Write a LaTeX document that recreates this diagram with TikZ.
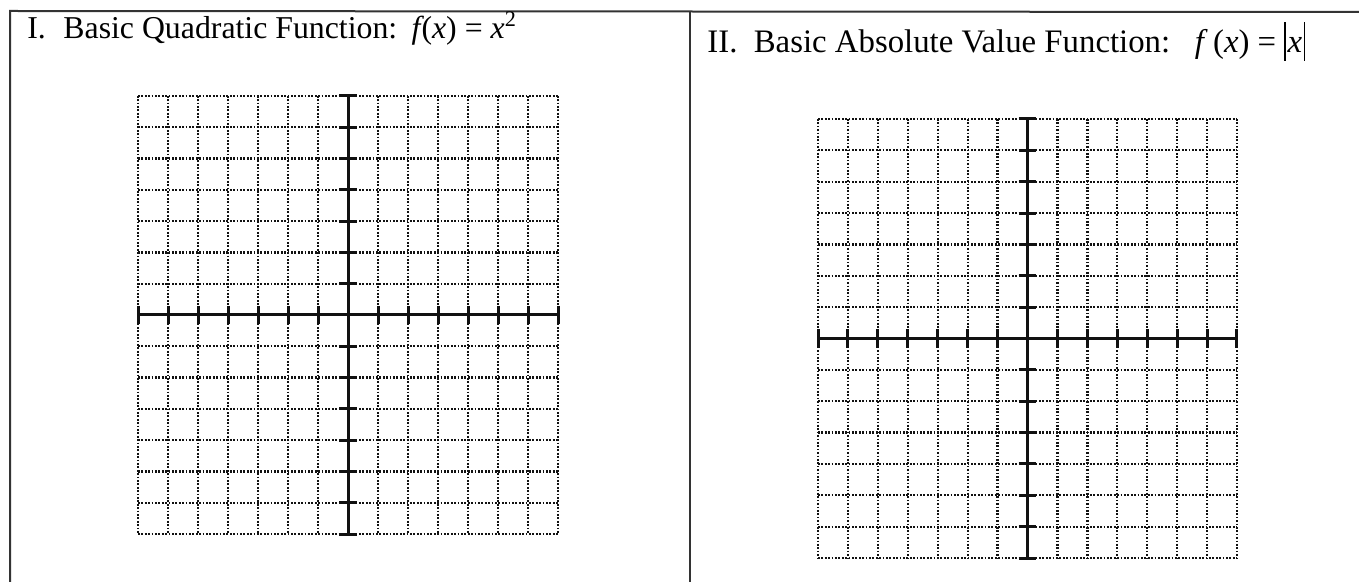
\documentclass[tikz,border=0pt]{standalone}
\usepackage{fontspec}
\setmainfont{Liberation Serif}
\newfontfamily\headfont{Liberation Serif}
\usepackage{xcolor}
\definecolor{inkblack}{HTML}{111111}
\definecolor{rulegray}{HTML}{333333}

\tikzset{
  cellborder/.style={draw=rulegray, line width=1pt},
  gridline/.style={inkblack, line width=1.15pt, dash pattern=on 0.85pt off 0.85pt},
  axisline/.style={inkblack, line width=1.5pt},
  tickline/.style={inkblack, line width=1.5pt}
}

\begin{document}
\begin{tikzpicture}[x=0.5pt, y=-0.5pt]

  % Page canvas
  \useasboundingbox (0,0) rectangle (1359,582);
  \fill[white] (0,0) rectangle (1359,582);

  % Table frame
  \draw[cellborder] (10,582) -- (10,11) -- (1359,12);
  \draw[cellborder] (690,11) -- (690,582);

  % Headings
  \node[anchor=base west, inner sep=0pt, font=\headfont\fontsize{15.9}{18}\selectfont] (quadtitle) at (27,39)
    {I.\hspace{0.55em}Basic Quadratic Function:\hspace{0.45em}\textit{f}\kern-0.08em(\textit{x}) = \textit{x}\textsuperscript{2}};
  \node[anchor=base west, inner sep=0pt, font=\headfont\fontsize{16.4}{19}\selectfont] (absvtitle) at (707,53)
    {II.\hspace{0.5em}Basic Absolute Value Function:\hspace{0.75em}\textit{f}\,(\textit{x}) = \rule[-0.24em]{0.045em}{1.2em}\kern0.05em\textit{x}\kern0.05em\rule[-0.24em]{0.045em}{1.2em}};

  % Left grid (quadratic)
  \begin{scope}[shift={(348,315)}, x=15pt, y=-15.65pt]
    \foreach \i in {-7,...,7} {
      \draw[gridline] (\i,-7) -- (\i,7);
      \draw[gridline] (-7,\i) -- (7,\i);
    }
    \draw[axisline] (-7,0) -- (7,0);
    \draw[axisline] (0,-7) -- (0,7);
    \foreach \i in {-7,...,7} {
      \draw[tickline] (\i,-0.29) -- (\i,0.29);
      \draw[tickline] (-0.3,\i) -- (0.3,\i);
    }
  \end{scope}

  % Right grid (absolute value)
  \begin{scope}[shift={(1027.5,338.5)}, x=14.96pt, y=-15.68pt]
    \foreach \i in {-7,...,7} {
      \draw[gridline] (\i,-7) -- (\i,7);
      \draw[gridline] (-7,\i) -- (7,\i);
    }
    \draw[axisline] (-7,0) -- (7,0);
    \draw[axisline] (0,-7) -- (0,7);
    \foreach \i in {-7,...,7} {
      \draw[tickline] (\i,-0.29) -- (\i,0.29);
      \draw[tickline] (-0.3,\i) -- (0.3,\i);
    }
  \end{scope}

\end{tikzpicture}
\end{document}
